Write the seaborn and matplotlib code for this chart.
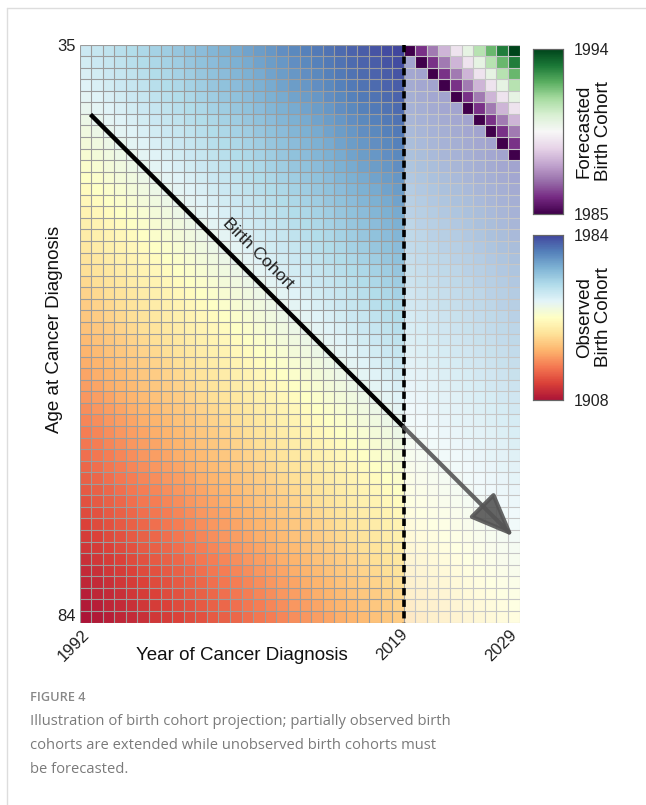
import numpy as np
import pandas as pd
import matplotlib
matplotlib.use("Agg")
import matplotlib.pyplot as plt
from matplotlib.lines import Line2D
import seaborn as sns

# ---- data ----
years = list(range(1992, 2030))          # year of diagnosis (columns)
ages = list(range(35, 85))               # age at diagnosis (rows)
last_observed_year = 2019
obs_cohort_range = [1908, 1984]
fc_cohort_range = [1985, 1994]
x_tick_labels = ["1992", "2019", "2029"]
y_tick_labels = ["35", "84"]
cohort_line_start = [1992.95, 41.05]   # (year, age) where the birth-cohort line starts
arrow_tip_year = 2029.45

sns.set_theme(style="white")
plt.rcParams['font.family'] = ['Liberation Sans', 'DejaVu Sans']

cohort = pd.DataFrame([[y - a for y in years] for a in ages], index=ages, columns=years)
yr = np.array(years)[None, :].repeat(len(ages), 0)
cv = cohort.values

mask_obs = ~(yr <= last_observed_year)
mask_ext = ~((yr > last_observed_year) & (cv <= obs_cohort_range[1]))
mask_fc = ~(cv > obs_cohort_range[1])

W, H = 646, 805
fig = plt.figure(figsize=(W / 100, H / 100), dpi=100)
fig.patch.set_facecolor("white")

def fx(px):
    return px / W

def fy(py):
    return 1 - py / H

ax = fig.add_axes([fx(79.5), fy(622.5), fx(519.5) - fx(79.5), fy(44.5) - fy(622.5)])
cax_fc = fig.add_axes([fx(533), fy(214), fx(30), 165 / H])
cax_obs = fig.add_axes([fx(533), fy(400), fx(30), 165 / H])

sns.heatmap(cohort, mask=mask_obs, cmap="RdYlBu", vmin=obs_cohort_range[0], vmax=obs_cohort_range[1],
            ax=ax, cbar_ax=cax_obs, linewidths=0, alpha=0.92)
sns.heatmap(cohort, mask=mask_ext, cmap="RdYlBu", vmin=obs_cohort_range[0], vmax=obs_cohort_range[1],
            ax=ax, cbar=False, alpha=0.45, linewidths=0)
sns.heatmap(cohort, mask=mask_fc, cmap="PRGn", vmin=fc_cohort_range[0], vmax=fc_cohort_range[1],
            ax=ax, cbar_ax=cax_fc, linewidths=0)

ncol, nrow = len(years), len(ages)
xb = last_observed_year - years[0] + 1

# grid lines
ax.vlines(np.arange(0, xb + 1), 0, nrow, colors="#9c9c9c", lw=0.8, zorder=3)
ax.vlines(np.arange(xb + 1, ncol + 1), 0, nrow, colors="#c6c6c6", lw=0.8, zorder=3)
ax.hlines(np.arange(0, nrow + 1), 0, xb, colors="#9c9c9c", lw=0.8, zorder=3)
ax.hlines(np.arange(0, nrow + 1), xb, ncol, colors="#c6c6c6", lw=0.8, zorder=3)

ax.set_xlim(0, ncol)
ax.set_ylim(nrow, 0)

# dashed boundary
ax.plot([xb, xb], [0, nrow], color="black", lw=2.6, ls=(0, (2.0, 1.2)), zorder=5, clip_on=False)

# birth cohort line and arrow
x0 = cohort_line_start[0] - years[0]
y0 = cohort_line_start[1] - ages[0]
ym = y0 + (xb - x0)
xt = arrow_tip_year - years[0]
yt = ym + (xt - xb)
ax.plot([x0, xb], [y0, ym], color="black", lw=3.2, solid_capstyle="butt", zorder=6)
ax.annotate("", xy=(xt, yt), xytext=(xb, ym),
            arrowprops=dict(arrowstyle="-|>,head_length=2.7,head_width=1.1", color="#555555",
                            lw=3.0, alpha=0.9, shrinkA=0, shrinkB=0, mutation_scale=10), zorder=6)
ax.text(15.4, 18.1, "Birth Cohort", rotation=-45, rotation_mode="anchor",
        ha="center", va="center", fontsize=12.5, color="#222222", zorder=7)

# ticks
ax.set_xticks([0.2, 27.7, 37.1])
ax.set_xticklabels(x_tick_labels, rotation=45, ha="right", rotation_mode="anchor", fontsize=12)
ax.set_yticks([0.2, 49.5])
ax.set_yticklabels(y_tick_labels, rotation=0, fontsize=12)
ax.tick_params(axis="both", length=0, pad=3, colors="#222222")
ax.set_xlabel("Year of Cancer Diagnosis", fontsize=13.5, color="#111111")
ax.set_ylabel("Age at Cancer Diagnosis", fontsize=13.5, color="#111111")
ax.xaxis.set_label_coords(0.368, -0.043)
ax.yaxis.label.set_va("center")
ax.yaxis.set_label_coords(-0.056, 0.507)
for s in ax.spines.values():
    s.set_visible(False)

# colorbars
for cax, rng, label in [(cax_fc, fc_cohort_range, "Forecasted\nBirth Cohort"),
                        (cax_obs, obs_cohort_range, "Observed\nBirth Cohort")]:
    cax.set_yticks(rng)
    cax.set_yticklabels([str(rng[0]), str(rng[1])], fontsize=11.5, color="#222222")
    cax.tick_params(length=0, pad=8)
    for s in cax.spines.values():
        s.set_visible(True)
        s.set_color("#666666")
        s.set_linewidth(0.8)
    cax.text(2.03, 0.5, label, transform=cax.transAxes, rotation=90, ha="center", va="center",
             fontsize=13.5, color="#111111", linespacing=1.15)

# card border
fig.add_artist(Line2D([fx(6.5), 1], [fy(8.5), fy(8.5)], color="#dddddd", lw=1))
fig.add_artist(Line2D([fx(6.5), fx(6.5)], [fy(8.5), 0], color="#dddddd", lw=1))

# caption
fig.text(fx(30), fy(697), "FIGURE 4", fontsize=9.2, color="#888888", va="center",
         family=["Open Sans", "DejaVu Sans"], weight="semibold")
caption = ["Illustration of birth cohort projection; partially observed birth",
           "cohorts are extended while unobserved birth cohorts must",
           "be forecasted."]
for i, line in enumerate(caption):
    fig.text(fx(30), fy(721 + 24.3 * i), line, fontsize=10.6, color="#7a7a7a", va="center",
             family=["Open Sans", "DejaVu Sans"])

fig.savefig("out.png", dpi=100, facecolor="white")
